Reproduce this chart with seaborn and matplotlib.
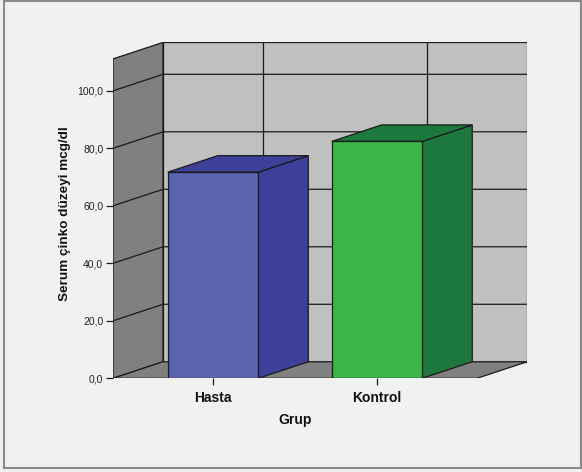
import matplotlib
matplotlib.use("Agg")
import matplotlib.pyplot as plt
from matplotlib.patches import Polygon, Rectangle
import seaborn as sns
import pandas as pd

# Mean serum zinc by group
groups = ["Hasta", "Kontrol"]
values = [71.7, 82.4]
front_colors = ["#5a63ae", "#3bb54a"]
shade_colors = ["#3d4099", "#1c783d"]
tick_values = [0, 20, 40, 60, 80, 100]
tick_labels = ["0,0", "20,0", "40,0", "60,0", "80,0", "100,0"]

sns.set_theme(style="white")
plt.rcParams["font.family"] = ["Liberation Sans", "DejaVu Sans"]
plt.rcParams["text.color"] = "#111111"
plt.rcParams["axes.labelcolor"] = "#111111"

df = pd.DataFrame({"Grup": groups, "Serum": values})

W, H = 582, 472
fig = plt.figure(figsize=(W / 100, H / 100), dpi=100)
fig.patch.set_facecolor("#f0f1f0")

# axes box spans from the front-left corner to the back-right corner of the 3D frame
left_px, right_px, top_px, bottom_px = 113, 527, 42.4, 378.3
ax = fig.add_axes([left_px / W, 1 - bottom_px / H,
                   (right_px - left_px) / W, (bottom_px - top_px) / H])
ax.set_facecolor("none")

# oblique depth offset (category units, value units)
dx, dy = 0.305, 5.75
x0, x1 = -0.61, 1.61
ytop = 111.1

edge = "#1a1a1a"
# back wall
ax.add_patch(Rectangle((x0 + dx, dy), x1 - x0, ytop, facecolor="#c0c0c0",
                       edgecolor=edge, lw=0.9, zorder=0))
# left wall
ax.add_patch(Polygon([(x0, 0), (x0 + dx, dy), (x0 + dx, ytop + dy), (x0, ytop)],
                     closed=True, facecolor="#808080", edgecolor=edge, lw=0.9, zorder=0.5))
# floor
ax.add_patch(Polygon([(x0, 0), (x1, 0), (x1 + dx, dy), (x0 + dx, dy)],
                     closed=True, facecolor="#808080", edgecolor=edge, lw=0.9, zorder=0.5))

# grid lines on back and left walls
for v in tick_values[1:]:
    ax.plot([x0, x0 + dx, x1 + dx], [v, v + dy, v + dy], color=edge, lw=0.9, zorder=1)
for i in range(len(groups)):
    ax.plot([i + dx, i + dx], [dy, ytop + dy], color=edge, lw=0.9, zorder=1)

sns.barplot(data=df, x="Grup", y="Serum", hue="Grup", palette=front_colors,
            width=0.552, edgecolor=edge, linewidth=0.9, legend=False, ax=ax,
            saturation=1)

# extrude each bar: side and top faces
for bar, shade in zip(ax.patches[3:], shade_colors):
    bx, bw, bh = bar.get_x(), bar.get_width(), bar.get_height()
    side = Polygon([(bx + bw, 0), (bx + bw + dx, dy), (bx + bw + dx, bh + dy), (bx + bw, bh)],
                   closed=True, facecolor=shade, edgecolor=edge, lw=0.9, zorder=2)
    top = Polygon([(bx, bh), (bx + dx, bh + dy), (bx + bw + dx, bh + dy), (bx + bw, bh)],
                  closed=True, facecolor=shade, edgecolor=edge, lw=0.9, zorder=2)
    ax.add_patch(side)
    ax.add_patch(top)
    bar.set_zorder(3)

ax.set_xlim(x0, x1 + dx)
ax.set_ylim(0, ytop + dy)

for s in ax.spines.values():
    s.set_visible(False)

ax.set_yticks(tick_values, tick_labels)
ax.set_xticks(range(len(groups)), groups)
ax.tick_params(axis="y", which="both", left=True, direction="out", length=5,
               width=0.9, color=edge, pad=2, labelsize=7.5, labelcolor="#222222")
ax.tick_params(axis="x", which="both", bottom=True, direction="out", length=5,
               width=0.9, color=edge, pad=4, labelsize=10, labelcolor="#111111")
for t in ax.get_xticklabels():
    t.set_fontweight("bold")

ax.set_ylabel("Serum çinko düzeyi mcg/dl", fontsize=9.7, fontweight="bold", va="center")
ax.yaxis.set_label_coords((65 - left_px) / (right_px - left_px),
                          (bottom_px - 214) / (bottom_px - top_px))
ax.set_xlabel("Grup", fontsize=10, fontweight="bold", va="center")
ax.xaxis.set_label_coords((295.5 - left_px) / (right_px - left_px),
                          (bottom_px - 420) / (bottom_px - top_px))

# outer frame
fig.add_artist(Rectangle((3.5 / W, 1 - 467.5 / H), (581 - 3.5) / W, (467.5 - 0.5) / H,
                         transform=fig.transFigure, fill=False,
                         edgecolor="#8a8a8a", lw=1.5))

fig.savefig("out.png", dpi=100, facecolor=fig.get_facecolor())
